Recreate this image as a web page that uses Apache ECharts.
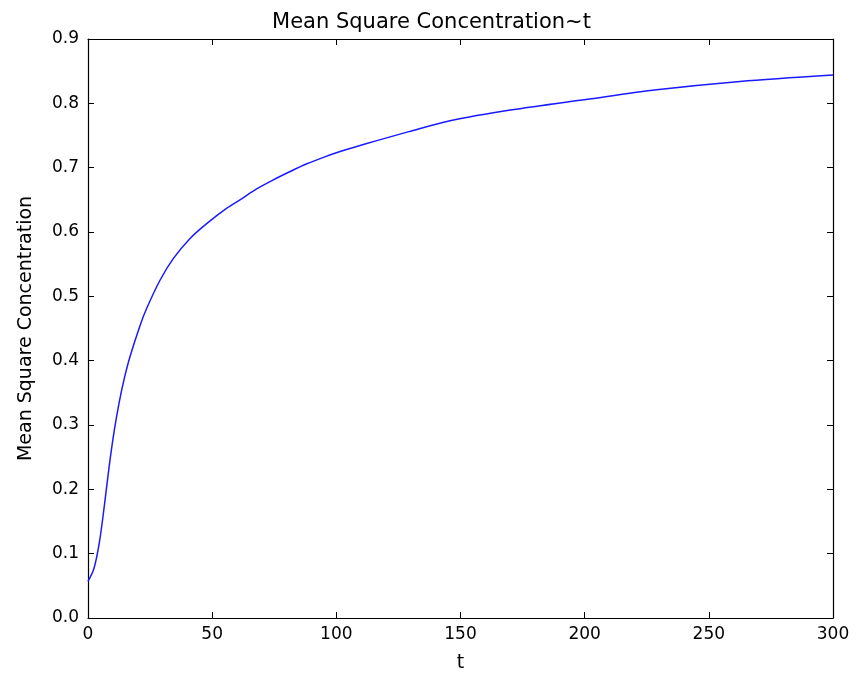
<!DOCTYPE html>
<html>
<head>
<meta charset="utf-8">
<script src="https://cdn.jsdelivr.net/npm/echarts@6/dist/echarts.min.js"></script>
<style>
  html, body { margin: 0; padding: 0; background: #fff; }
  #main { width: 863px; height: 674px; }
</style>
</head>
<body>
<div id="main"></div>
<script>
// values
var tValues = [0, 2.4, 4.6, 6.6, 8.6, 10.6, 12.6, 14.6, 16.9, 20.9, 23.6, 29, 34.4, 41.1,
               47.8, 55.9, 61.2, 67.9, 74.6, 81.4, 88.1, 94.8, 101.5, 108.2, 116.3, 129.2,
               145.8, 170.8, 200.5, 229, 262.5, 300];
var mscValues = [0.057, 0.077, 0.118, 0.175, 0.238, 0.292, 0.336, 0.372, 0.406, 0.454, 0.481,
                 0.525, 0.559, 0.590, 0.613, 0.637, 0.650, 0.667, 0.681, 0.694, 0.706, 0.716,
                 0.725, 0.733, 0.742, 0.756, 0.773, 0.790, 0.806, 0.821, 0.834, 0.844];
var xTicks = [0, 50, 100, 150, 200, 250, 300];
var yTicks = [0.0, 0.1, 0.2, 0.3, 0.4, 0.5, 0.6, 0.7, 0.8, 0.9];

var myChart = echarts.init(document.getElementById('main'));

var font = 'DejaVu Sans';
var lineData = tValues.map(function (t, i) { return [t, mscValues[i]]; });

function frameAxis(pos, isX) {
    var ax = {
        type: 'value',
        position: pos,
        min: isX ? xTicks[0] : yTicks[0],
        max: isX ? xTicks[xTicks.length - 1] : yTicks[yTicks.length - 1],
        interval: isX ? 50 : 0.1,
        axisLine: { show: true, onZero: false, lineStyle: { color: '#000', width: 1.2 } },
        axisTick: { show: true, inside: true, length: 6, lineStyle: { color: '#000' } },
        axisLabel: { show: false },
        splitLine: { show: false }
    };
    return ax;
}

var xMain = frameAxis('bottom', true);
xMain.name = 't';
xMain.nameLocation = 'middle';
xMain.nameGap = 36;
xMain.nameTextStyle = { fontFamily: font, fontSize: 19, color: '#000' };
xMain.axisLabel = { show: true, fontFamily: font, fontSize: 17, color: '#000', margin: 8 };

var yMain = frameAxis('left', false);
yMain.name = 'Mean Square Concentration';
yMain.nameLocation = 'middle';
yMain.nameGap = 52;
yMain.nameTextStyle = { fontFamily: font, fontSize: 19, color: '#000' };
yMain.axisLabel = {
    show: true, fontFamily: font, fontSize: 17, color: '#000', margin: 9,
    formatter: function (v) { return v.toFixed(1); }
};

option = {
    animation: false,
    backgroundColor: '#fff',
    title: {
        text: 'Mean Square Concentration~t',
        left: 'center',
        top: 7,
        textStyle: { fontFamily: font, fontSize: 21, fontWeight: 'normal', color: '#000' }
    },
    grid: { left: 88, right: 30, top: 39, bottom: 56, outerBoundsMode: 'none' },
    xAxis: [xMain, frameAxis('top', true)],
    yAxis: [yMain, frameAxis('right', false)],
    series: [
        {
            type: 'line',
            data: lineData,
            smooth: 0.3,
            showSymbol: false,
            lineStyle: { color: '#1a1aff', width: 1.5 }
        }
    ]
};

myChart.setOption(option);
</script>
</body>
</html>
